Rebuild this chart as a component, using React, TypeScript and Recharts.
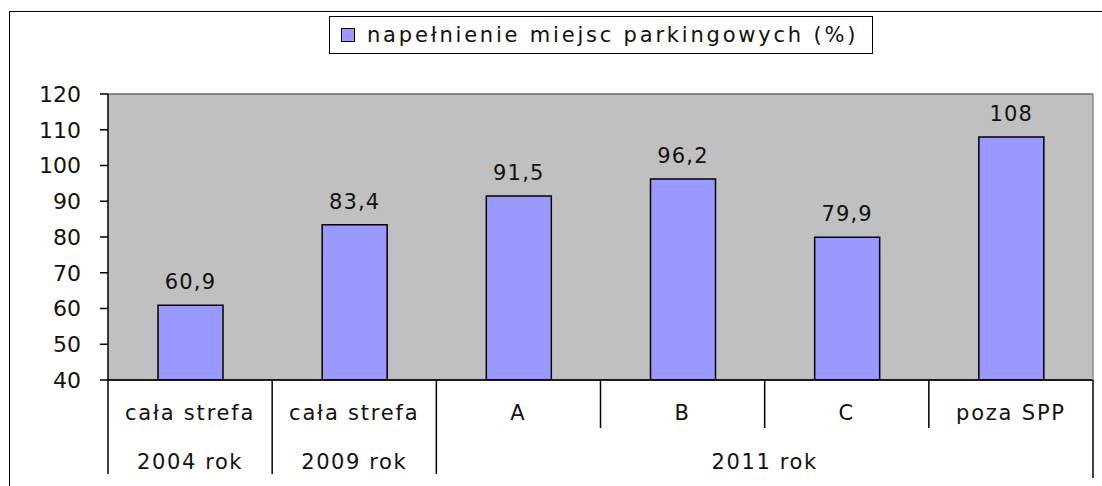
import React from 'react';
import { BarChart, Bar, XAxis, YAxis, CartesianGrid, ReferenceLine, LabelList, Legend } from 'recharts';

const categories = ['cała strefa', 'cała strefa', 'A', 'B', 'C', 'poza SPP'];
const years = ['2004 rok', '2009 rok', '2011 rok', '2011 rok', '2011 rok', '2011 rok'];
const values = [60.9, 83.4, 91.5, 96.2, 79.9, 108];
const yTicks = [40, 50, 60, 70, 80, 90, 100, 110, 120];
const seriesName = 'napełnienie miejsc parkingowych (%)';

const FONT = '"DejaVu Sans", Verdana, sans-serif';
const BAR_FILL = '#9999FF';

const data = categories.map((c, i) => ({ key: i, name: c, year: years[i], value: values[i] }));

// two row category axis, Excel style: sub category on top, year group below
const CategoryTick = (props: any) => {
  const { x, y, payload } = props;
  const i: number = payload.index;
  const half: number = payload.offset || 82;
  const left = x - half;
  const right = x + half;
  const newGroup = i === 0 || years[i] !== years[i - 1];
  const last = i === categories.length - 1;

  let groupLabel = null;
  if (newGroup) {
    let n = 1;
    while (i + n < years.length && years[i + n] === years[i]) n++;
    groupLabel = (
      <text x={left + n * half} y={y + 89} textAnchor="middle" fontSize={21} fontFamily={FONT} fill="#111" letterSpacing={1.6}>
        {years[i]}
      </text>
    );
  }

  return (
    <g>
      <line x1={left} y1={y} x2={left} y2={y + (newGroup ? 94 : 48)} stroke="#000" strokeWidth={1.5} />
      {last && <line x1={right} y1={y} x2={right} y2={y + 98} stroke="#000" strokeWidth={1.5} />}
      <text x={x} y={y + 40} textAnchor="middle" fontSize={21} fontFamily={FONT} fill="#111" letterSpacing={1.8}>
        {categories[i]}
      </text>
      {groupLabel}
    </g>
  );
};

const LegendBox = () => (
  <div
    style={{
      border: '1.5px solid #000',
      width: 544,
      height: 38,
      boxSizing: 'border-box',
      display: 'flex',
      alignItems: 'center',
      background: '#fff',
      fontFamily: FONT,
      fontSize: 21,
      letterSpacing: 2.8,
      color: '#111',
      whiteSpace: 'nowrap',
    }}
  >
    <span
      style={{
        display: 'inline-block',
        width: 12,
        height: 12,
        background: BAR_FILL,
        border: '1.5px solid #000',
        marginLeft: 11,
        marginRight: 12,
      }}
    />
    <span>{seriesName}</span>
  </div>
);

export default function App() {
  return (
    <div style={{ position: 'relative', width: 1102, height: 486, overflow: 'hidden', background: '#fff' }}>
      <style>{'body{margin:0}'}</style>
      <div
        style={{
          position: 'absolute',
          left: 9,
          top: 11,
          width: 1200,
          height: 600,
          borderLeft: '1.5px solid #000',
          borderTop: '1.5px solid #000',
        }}
      />
      <div style={{ position: 'absolute', left: 0, top: 0 }}>
        <BarChart width={1102} height={486} data={data} margin={{ top: 94, right: 8, left: 0, bottom: 0 }}>
          <CartesianGrid vertical={false} stroke="#000" fill="#C0C0C0" fillOpacity={1} />
          <XAxis
            dataKey="key"
            interval={0}
            height={106}
            tickLine={false}
            tickSize={0}
            tickMargin={0}
            axisLine={{ stroke: '#000', strokeWidth: 1.5 }}
            tick={<CategoryTick />}
          />
          <YAxis
            yAxisId="left"
            width={108}
            domain={[40, 120]}
            ticks={yTicks}
            allowDataOverflow
            tickSize={8}
            tickMargin={19}
            axisLine={{ stroke: '#000', strokeWidth: 1.5 }}
            tickLine={{ stroke: '#000', strokeWidth: 1.5 }}
            tick={{ fontSize: 22, fill: '#111', fontFamily: FONT }}
          />
          <YAxis
            yAxisId="right"
            orientation="right"
            width={1}
            domain={[40, 120]}
            tick={false}
            tickLine={false}
            axisLine={{ stroke: '#8c8c8c', strokeWidth: 1.5 }}
          />
          <ReferenceLine yAxisId="left" y={120} stroke="#8c8c8c" strokeWidth={1.5} />
          <Legend
            verticalAlign="middle"
            align="center"
            content={<LegendBox />}
            wrapperStyle={{ top: 16, left: 329, width: 544 }}
          />
          <Bar
            yAxisId="left"
            dataKey="value"
            name={seriesName}
            fill={BAR_FILL}
            stroke="#000"
            strokeWidth={1.5}
            barSize={65}
            isAnimationActive={false}
          >
            <LabelList
              dataKey="value"
              position="top"
              offset={16}
              formatter={(v: any) => String(v).replace('.', ',')}
              style={{ fontSize: 21, fontFamily: FONT, fill: '#111', letterSpacing: 1.2 }}
            />
          </Bar>
        </BarChart>
      </div>
    </div>
  );
}
